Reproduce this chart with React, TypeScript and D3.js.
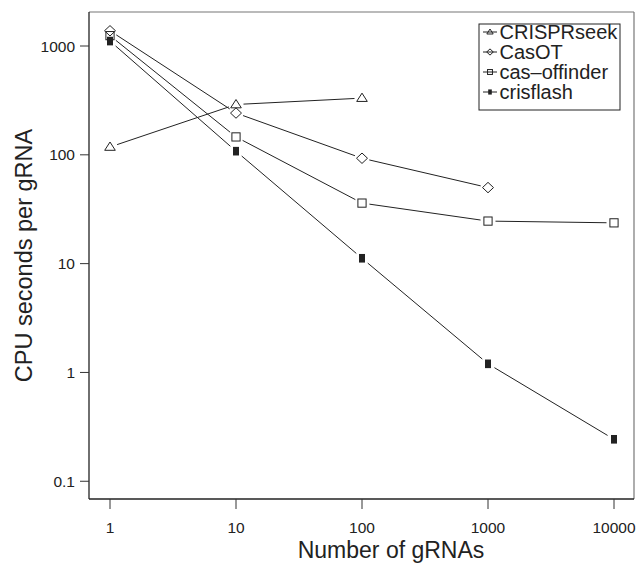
import React from "react";
import * as d3 from "d3";

const xValues = [1, 10, 100, 1000, 10000];
const xTicks = [1, 10, 100, 1000, 10000];
const yTicks = [0.1, 1, 10, 100, 1000];
const seriesNames = ["CRISPRseek", "CasOT", "cas\u2013offinder", "crisflash"];
const crisprseek = [118, 290, 332];
const casot = [1380, 242, 93, 50];
const casoffinder = [1245, 146, 36, 24.6, 23.7];
const crisflash = [1110, 108, 11.2, 1.2, 0.243];

const W = 637;
const H = 566;
const L = 89, R = 634, T = 12, B = 499;
const FONT = "Liberation Sans, Arimo, Arial, Helvetica, sans-serif";

type Shape = "tri" | "dia" | "sq" | "fsq";

function Marker({ x, y, shape, s = 1 }: { x: number; y: number; shape: Shape; s?: number }) {
  const stroke = "#222";
  if (shape === "tri") {
    const w = 5.3 * s, h = 8.3 * s;
    return <path d={`M${x},${y - h * 0.6}L${x + w},${y + h * 0.4}L${x - w},${y + h * 0.4}Z`} fill="none" stroke={stroke} strokeWidth={1} />;
  }
  if (shape === "dia") {
    const w = 5.5 * s, h = 5.2 * s;
    return <path d={`M${x},${y - h}L${x + w},${y}L${x},${y + h}L${x - w},${y}Z`} fill="none" stroke={stroke} strokeWidth={1} />;
  }
  if (shape === "sq") {
    const w = 4.1 * s;
    return <rect x={x - w} y={y - w} width={2 * w} height={2 * w} fill="none" stroke={stroke} strokeWidth={1} />;
  }
  const w = 3 * s, h = 4.3 * s;
  return <rect x={x - w} y={y - h} width={2 * w} height={2 * h} fill="#222" />;
}

export default function App() {
  const x = d3.scaleLog().domain([1, 10000]).range([110, 614]);
  const y = d3.scaleLog().domain([0.1, 1000]).range([481.25, 46]);
  const all: { vals: number[]; shape: Shape }[] = [
    { vals: crisprseek, shape: "tri" },
    { vals: casot, shape: "dia" },
    { vals: casoffinder, shape: "sq" },
    { vals: crisflash, shape: "fsq" },
  ];
  const gap = 7.5;
  const segs: React.ReactElement[] = [];
  const marks: React.ReactElement[] = [];
  all.forEach((sr, si) => {
    const pts = sr.vals.map((v, i) => [x(xValues[i]), y(v)] as [number, number]);
    for (let i = 0; i < pts.length - 1; i++) {
      const [x1, y1] = pts[i];
      const [x2, y2] = pts[i + 1];
      const dx = x2 - x1, dy = y2 - y1;
      const len = Math.hypot(dx, dy);
      const ux = dx / len, uy = dy / len;
      segs.push(
        <line key={`l${si}-${i}`} x1={x1 + ux * gap} y1={y1 + uy * gap} x2={x2 - ux * gap} y2={y2 - uy * gap} stroke="#222" strokeWidth={1} />
      );
    }
    pts.forEach(([px, py], i) => marks.push(<Marker key={`m${si}-${i}`} x={px} y={py} shape={sr.shape} />));
  });

  const legX = 479, legY = 24, legW = 141, legH = 86;
  const rowY = [32, 52, 72, 92];

  return (
    <svg width={W} height={H} style={{ position: "absolute", left: 0, top: 0, background: "#fff", fontFamily: FONT }}>
      <rect x={0} y={0} width={W} height={H} fill="#fff" />
      {/* box */}
      <line x1={L} y1={T} x2={R} y2={T} stroke="#777" strokeWidth={1.2} />
      <line x1={R} y1={T} x2={R} y2={B} stroke="#777" strokeWidth={1.2} />
      <line x1={L} y1={T} x2={L} y2={B} stroke="#222" strokeWidth={1.3} />
      <line x1={L} y1={B} x2={R} y2={B} stroke="#222" strokeWidth={1.3} />
      {/* y ticks */}
      {yTicks.map((t) => (
        <g key={`yt${t}`}>
          <line x1={80} x2={L} y1={y(t)} y2={y(t)} stroke="#333" strokeWidth={1} />
          <text x={75} y={y(t)} dy="0.36em" textAnchor="end" fontSize={15.5} fill="#222">{String(t)}</text>
        </g>
      ))}
      {/* x ticks */}
      {xTicks.map((t) => (
        <g key={`xt${t}`}>
          <line x1={x(t)} x2={x(t)} y1={B} y2={509} stroke="#333" strokeWidth={1} />
          <text x={x(t)} y={533} textAnchor="middle" fontSize={15.5} fill="#222">{String(t)}</text>
        </g>
      ))}
      {segs}
      {marks}
      {/* legend */}
      <rect x={legX} y={legY} width={legW} height={legH} fill="#fff" stroke="#222" strokeWidth={1} />
      {seriesNames.map((n, i) => (
        <g key={`lg${i}`}>
          <line x1={483} x2={497} y1={rowY[i]} y2={rowY[i]} stroke="#222" strokeWidth={1} />
          <Marker x={490} y={rowY[i]} shape={all[i].shape} s={0.6} />
          <text x={499.5} y={rowY[i]} dy="0.36em" fontSize={20} fill="#222">{n}</text>
        </g>
      ))}
      {/* axis titles */}
      <text x={391} y={558} textAnchor="middle" fontSize={23} fill="#222">Number of gRNAs</text>
      <text transform={`translate(32,${(T + B) / 2}) rotate(-90)`} textAnchor="middle" fontSize={23.5} fill="#222">CPU seconds per gRNA</text>
    </svg>
  );
}
